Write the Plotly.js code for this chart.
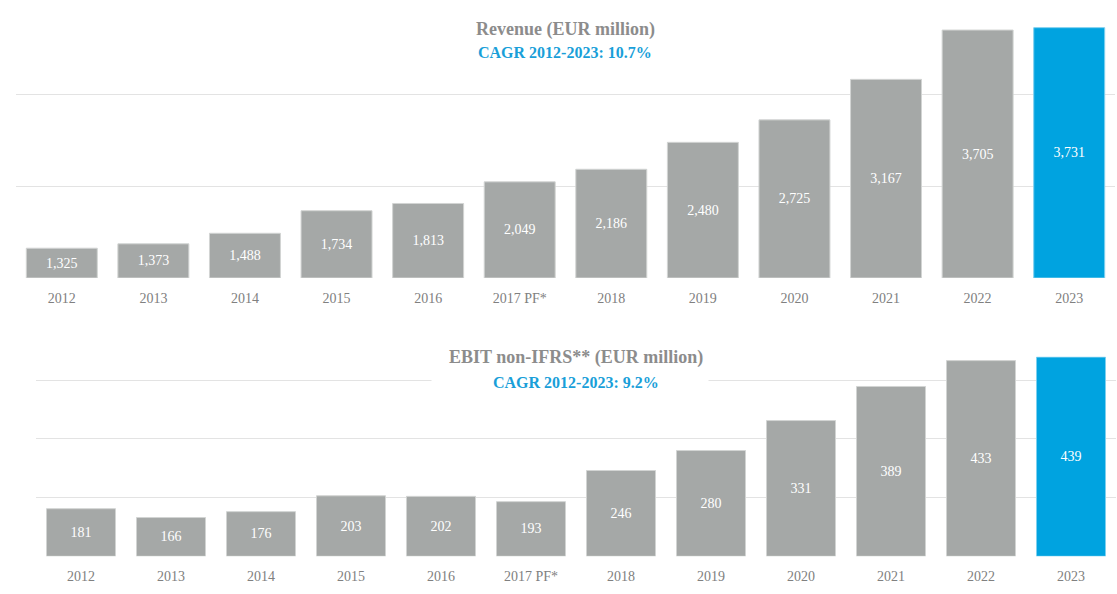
<!DOCTYPE html>
<html>
<head>
<meta charset="utf-8">
<script src="https://cdn.plot.ly/plotly-3.0.1.min.js"></script>
<style>html,body{margin:0;padding:0;background:#fff;}#chart{width:1117px;height:594px;}</style>
</head>
<body>
<div id="chart"></div>
<script>
const years = ['2012','2013','2014','2015','2016','2017 PF*','2018','2019','2020','2021','2022','2023'];
const revenue = [1325,1373,1488,1734,1813,2049,2186,2480,2725,3167,3705,3731];
const ebit = [181,166,176,203,202,193,246,280,331,389,433,439];
const revenueBase = 1000;
const ebitBase = 100;
const revenueTicks = [1000,2000,3000,4000];
const ebitTicks = [100,200,300,400];

const GRAY = '#a5a8a7';
const BLUE = '#00a3e0';
const colorsFor = arr => arr.map((_, i) => i === arr.length - 1 ? BLUE : GRAY);
const lineFor = arr => arr.map((_, i) => i === arr.length - 1 ? '#7fd0ef' : '#d2d4d3');
const fmt = v => v.toLocaleString('en-US');
const FONT = '"Liberation Serif", "Times New Roman", Times, serif';

const traces = [
  {
    type: 'bar', x: years, y: revenue.map(v => v - revenueBase), base: revenueBase,
    xaxis: 'x', yaxis: 'y',
    marker: {color: colorsFor(revenue), line: {color: lineFor(revenue), width: 1}},
    text: revenue.map(fmt), textposition: 'inside', insidetextanchor: 'middle',
    textfont: {family: FONT, size: 14, color: '#ffffff'}, textangle: 0,
    hoverinfo: 'skip', width: 0.775
  },
  {
    type: 'bar', x: years, y: ebit.map(v => v - ebitBase), base: ebitBase,
    xaxis: 'x2', yaxis: 'y2',
    marker: {color: colorsFor(ebit), line: {color: lineFor(ebit), width: 1}},
    text: ebit.map(fmt), textposition: 'inside', insidetextanchor: 'middle',
    textfont: {family: FONT, size: 14, color: '#ffffff'}, textangle: 0,
    hoverinfo: 'skip', width: 0.767
  }
];

const axisX = {
  type: 'category', showgrid: false, zeroline: false, showline: false, ticks: '',
  ticklabelstandoff: 10,
  tickfont: {family: FONT, size: 14, color: '#808080'}, fixedrange: true
};
const axisY = {
  showticklabels: false, showgrid: true, gridcolor: '#e3e3e3', gridwidth: 1,
  zeroline: false, showline: false, ticks: '', tickmode: 'array', fixedrange: true
};

const layout = {
  width: 1117, height: 594,
  margin: {l: 0, r: 0, t: 0, b: 0},
  paper_bgcolor: '#ffffff', plot_bgcolor: '#ffffff',
  showlegend: false, bargap: 0.2,
  font: {family: FONT},
  xaxis: Object.assign({}, axisX, {domain: [16/1117, 1115/1117], anchor: 'y'}),
  yaxis: Object.assign({}, axisY, {domain: [1 - 278/594, 1 - 3/594], range: [1000, 4000], tickvals: revenueTicks, anchor: 'x'}),
  xaxis2: Object.assign({}, axisX, {domain: [36/1117, 1116/1117], anchor: 'y2'}),
  yaxis2: Object.assign({}, axisY, {domain: [1 - 556.3/594, 1 - 356.5/594], range: [100, 440], tickvals: ebitTicks, anchor: 'x2'}),
  annotations: [
    {xref: 'paper', yref: 'paper', x: 565.5/1117, y: 1 - 29/594, xanchor: 'center', yanchor: 'middle',
     text: '<b>Revenue (EUR million)</b>', showarrow: false,
     font: {family: FONT, size: 18, color: '#8c8c8c'}},
    {xref: 'paper', yref: 'paper', x: 565.5/1117, y: 1 - 53/594, xanchor: 'center', yanchor: 'middle',
     text: '<b>CAGR 2012-2023: 10.7%</b>', showarrow: false,
     font: {family: FONT, size: 16, color: '#1a9fd9'}},
    {xref: 'paper', yref: 'paper', x: 570/1117, y: 1 - 380/594, xanchor: 'center', yanchor: 'middle',
     text: ' ', showarrow: false, bgcolor: '#ffffff', width: 276, height: 20, borderpad: 0,
     font: {family: FONT, size: 12, color: '#ffffff'}},
    {xref: 'paper', yref: 'paper', x: 576/1117, y: 1 - 382/594, xanchor: 'center', yanchor: 'middle',
     text: '<b>CAGR 2012-2023: 9.2%</b>', showarrow: false,
     font: {family: FONT, size: 16, color: '#1a9fd9'}},
    {xref: 'paper', yref: 'paper', x: 576/1117, y: 1 - 357.5/594, xanchor: 'center', yanchor: 'middle',
     text: '<b>EBIT non-IFRS** (EUR million)</b>', showarrow: false,
     font: {family: FONT, size: 18, color: '#8c8c8c'}}
  ]
};

Plotly.newPlot('chart', traces, layout, {displayModeBar: false, staticPlot: true});
</script>
</body>
</html>
